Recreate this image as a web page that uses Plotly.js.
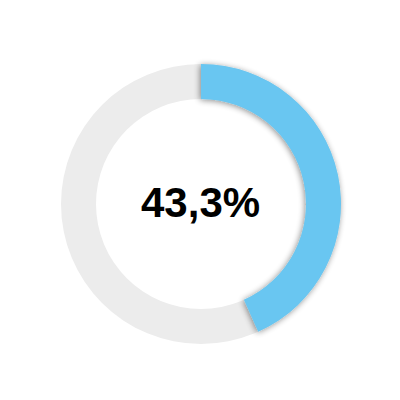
<!DOCTYPE html>
<html>
<head>
<meta charset="utf-8">
<script src="https://cdn.plot.ly/plotly-3.0.1.min.js"></script>
<style>
html,body{margin:0;padding:0;background:#fff;}
#chart{width:400px;height:400px;}
</style>
</head>
<body>
<svg width="0" height="0" style="position:absolute">
  <defs>
    <filter id="shadow" x="-20%" y="-20%" width="140%" height="140%">
      <feGaussianBlur in="SourceAlpha" stdDeviation="3"/>
      <feOffset dx="-1" dy="1" result="b"/>
      <feComponentTransfer><feFuncA type="linear" slope="0.45"/></feComponentTransfer>
      <feMerge><feMergeNode/><feMergeNode in="SourceGraphic"/></feMerge>
    </filter>
  </defs>
</svg>
<div id="chart"></div>
<script>
const labels = ['Share', 'Rest'];
const shareValue = 43.3;
const values = [shareValue, 100 - shareValue];
const centerLabel = '43,3%';
const blue = '#69C6F1';
const grey = '#ECECEC';

const domain = {x: [0.1525, 0.8525], y: [0.14, 0.84]};

const background = {
  type: 'pie',
  values: [100],
  labels: ['all'],
  hole: 0.75,
  sort: false,
  marker: {colors: [grey], line: {width: 0}},
  textinfo: 'none',
  hoverinfo: 'none',
  showlegend: false,
  domain: domain
};
const share = {
  type: 'pie',
  values: values,
  labels: labels,
  hole: 0.75,
  sort: false,
  direction: 'clockwise',
  rotation: 0,
  marker: {colors: [blue, 'rgba(0,0,0,0)'], line: {width: 0}},
  textinfo: 'none',
  hoverinfo: 'none',
  showlegend: false,
  domain: domain
};

const layout = {
  width: 400, height: 400,
  margin: {l: 0, r: 0, t: 0, b: 0},
  paper_bgcolor: '#fff',
  plot_bgcolor: '#fff',
  showlegend: false,
  annotations: [{
    text: '<b>' + centerLabel + '</b>',
    x: 0.5, y: 0.494, xref: 'paper', yref: 'paper',
    xanchor: 'center', yanchor: 'middle',
    showarrow: false,
    font: {family: 'Liberation Sans, Arial, sans-serif', size: 42, color: '#000'}
  }]
};

Plotly.newPlot('chart', [background, share], layout, {staticPlot: true}).then(function(gd){
  const traces = gd.querySelectorAll('.pielayer .trace');
  const last = traces[traces.length - 1];
  const p = last.querySelector('.slice path.surface');
  if (p) p.setAttribute('filter', 'url(#shadow)');
});
</script>
</body>
</html>
